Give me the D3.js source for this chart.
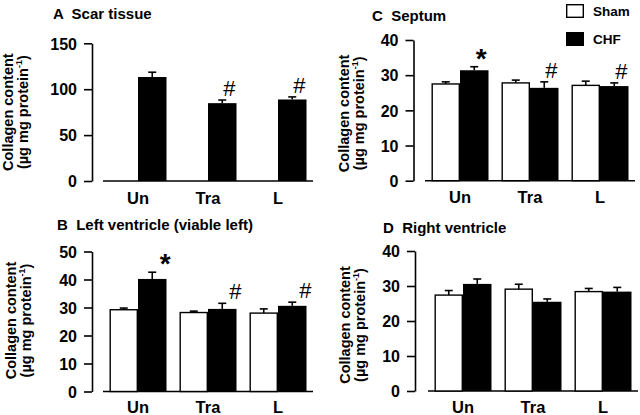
<!DOCTYPE html>
<html>
<head>
<meta charset="utf-8">
<script src="https://cdn.jsdelivr.net/npm/d3@7/dist/d3.min.js"></script>
<style>
body { margin: 0; background: #fff; }
svg text { font-family: Arial, "Liberation Sans", Helvetica, sans-serif; font-weight: bold; fill: #000; }
</style>
</head>
<body>
<div id="chart"></div>
<script>
var categories = ["Un", "Tra", "L"];
var series = ["Sham", "CHF"];

// A: scar tissue (CHF only)
var scarSham = [null, null, null];
var scarShamErr = [null, null, null];
var scarCHF = [113.3, 84.8, 88.8];
var scarCHFErr = [5.2, 3.4, 2.8];
var scarMarks = ["", "#", "#"];

// B: left ventricle (viable left)
var lvSham = [29.2, 28.2, 28.0];
var lvShamErr = [0.6, 0.5, 1.5];
var lvCHF = [40.2, 29.5, 30.6];
var lvCHFErr = [2.4, 2.0, 1.3];
var lvMarks = ["*", "#", "#"];

// C: septum
var septSham = [27.5, 27.8, 27.1];
var septShamErr = [0.6, 0.8, 1.2];
var septCHF = [31.4, 26.4, 26.9];
var septCHFErr = [1.0, 1.7, 0.9];
var septMarks = ["*", "#", "#"];

// D: right ventricle
var rvSham = [27.4, 29.1, 28.4];
var rvShamErr = [1.3, 1.4, 0.9];
var rvCHF = [30.6, 25.5, 28.4];
var rvCHFErr = [1.4, 0.8, 1.2];
var rvMarks = ["", "", ""];

var svg = d3.select("#chart").append("svg")
    .attr("width", 640)
    .attr("height", 415);

svg.append("rect").attr("width", 640).attr("height", 415).attr("fill", "#fff");

function drawPanel(p) {
    var g = svg.append("g");
    var y = d3.scaleLinear().domain([0, p.max]).range([p.y0, p.y1]);
    var x = d3.scaleBand().domain(categories).range([p.x0, p.x0 + 210]);
    // two bars side by side, centred in each 70px group
    var xs = d3.scaleBand().domain(series).range([6.5, 63.5]);

    // y axis
    var axis = g.append("g")
        .attr("transform", "translate(" + p.ax + ",0)")
        .call(d3.axisLeft(y).tickValues(p.ticks).tickSize(8).tickSizeOuter(0).tickPadding(7));
    axis.select(".domain").attr("stroke", "#000").attr("stroke-width", 1.6);
    axis.selectAll(".tick line").attr("stroke", "#000").attr("stroke-width", 1.6);
    axis.selectAll(".tick text")
        .attr("font-size", 16)
        .attr("font-family", null)
        .attr("dy", "0.36em");

    // baseline
    g.append("line")
        .attr("x1", p.x0).attr("x2", p.x0 + 210)
        .attr("y1", y(0)).attr("y2", y(0))
        .attr("stroke", "#000").attr("stroke-width", 1.6);

    // bars
    var bars = [];
    categories.forEach(function(c, i) {
        if (p.sham[i] != null) bars.push({cat: c, s: "Sham", v: p.sham[i], e: p.shamErr[i]});
        if (p.chf[i] != null) bars.push({cat: c, s: "CHF", v: p.chf[i], e: p.chfErr[i], mark: p.marks[i]});
    });

    g.selectAll("rect.bar")
        .data(bars)
        .enter().append("rect")
        .attr("class", "bar")
        .attr("x", function(d) { return x(d.cat) + xs(d.s) + (d.s == "Sham" ? 0.7 : 0); })
        .attr("y", function(d) { return y(d.v); })
        .attr("width", function(d) { return xs.bandwidth() - (d.s == "Sham" ? 1.4 : 0); })
        .attr("height", function(d) { return y(0) - y(d.v); })
        .attr("fill", function(d) { return d.s == "Sham" ? "#fff" : "#000"; })
        .attr("stroke", "#000")
        .attr("stroke-width", function(d) { return d.s == "Sham" ? 1.4 : 0; });

    // error bars (upper only)
    var err = g.selectAll("g.err")
        .data(bars)
        .enter().append("g")
        .attr("class", "err")
        .attr("stroke", "#000")
        .attr("stroke-width", 1.6);
    err.append("line")
        .attr("x1", function(d) { return x(d.cat) + xs(d.s) + xs.bandwidth() / 2; })
        .attr("x2", function(d) { return x(d.cat) + xs(d.s) + xs.bandwidth() / 2; })
        .attr("y1", function(d) { return y(d.v); })
        .attr("y2", function(d) { return y(d.v + d.e); });
    err.append("line")
        .attr("x1", function(d) { return x(d.cat) + xs(d.s) + xs.bandwidth() / 2 - 4; })
        .attr("x2", function(d) { return x(d.cat) + xs(d.s) + xs.bandwidth() / 2 + 4; })
        .attr("y1", function(d) { return y(d.v + d.e); })
        .attr("y2", function(d) { return y(d.v + d.e); });

    // significance marks
    g.selectAll("text.mark")
        .data(bars.filter(function(d) { return d.mark; }))
        .enter().append("text")
        .attr("class", "mark")
        .attr("text-anchor", "middle")
        .attr("x", function(d) { return x(d.cat) + xs(d.s) + xs.bandwidth() / 2 + p.markDx; })
        .attr("y", function(d) { return y(d.v + d.e) + (d.mark == "*" ? 1 : -4); })
        .attr("font-size", function(d) { return d.mark == "*" ? 28 : 22; })
        .style("font-weight", function(d) { return d.mark == "*" ? "bold" : "normal"; })
        .text(function(d) { return d.mark; });

    // category labels
    g.selectAll("text.cat")
        .data(categories)
        .enter().append("text")
        .attr("class", "cat")
        .attr("text-anchor", "middle")
        .attr("x", function(d) { return x(d) + x.bandwidth() / 2; })
        .attr("y", p.labelY)
        .attr("font-size", 16.5)
        .text(function(d) { return d; });

    // title
    g.append("text")
        .attr("x", p.titleX)
        .attr("y", p.titleY)
        .attr("font-size", 15)
        .style("white-space", "pre")
        .text(p.title);

    // y label
    var yl = g.append("g")
        .attr("transform", "translate(" + p.labX + "," + ((p.y0 + p.y1) / 2 + p.labDy) + ")rotate(-90)");
    yl.append("text")
        .attr("text-anchor", "middle")
        .attr("font-size", 14.5)
        .text("Collagen content");
    var l2 = yl.append("text")
        .attr("text-anchor", "middle")
        .attr("y", 15)
        .attr("font-size", 14.5);
    l2.append("tspan").text("(\u00b5g mg protein");
    l2.append("tspan").attr("font-size", 9).attr("dy", -6).text("-1");
    l2.append("tspan").attr("dy", 6).text(")");
}

drawPanel({title: "A  Scar tissue", titleX: 53, titleY: 19, ax: 92, x0: 103, y0: 181, y1: 43.3, max: 150,
    ticks: [0, 50, 100, 150], sham: scarSham, shamErr: scarShamErr, chf: scarCHF, chfErr: scarCHFErr,
    marks: scarMarks, markDx: 7, labelY: 204, labX: 13, labDy: 0});
drawPanel({title: "B  Left ventricle (viable left)", titleX: 57, titleY: 230, ax: 92, x0: 103, y0: 391.5, y1: 251.5, max: 50,
    ticks: [0, 10, 20, 30, 40, 50], sham: lvSham, shamErr: lvShamErr, chf: lvCHF, chfErr: lvCHFErr,
    marks: lvMarks, markDx: 13, labelY: 413, labX: 16, labDy: -1});
drawPanel({title: "C  Septum", titleX: 372, titleY: 20.5, ax: 413.5, x0: 425, y0: 180.7, y1: 40, max: 40,
    ticks: [0, 10, 20, 30, 40], sham: septSham, shamErr: septShamErr, chf: septCHF, chfErr: septCHFErr,
    marks: septMarks, markDx: 7, labelY: 203, labX: 349, labDy: 3});
drawPanel({title: "D  Right ventricle", titleX: 383, titleY: 233, ax: 415, x0: 428, y0: 391, y1: 251, max: 40,
    ticks: [0, 10, 20, 30, 40], sham: rvSham, shamErr: rvShamErr, chf: rvCHF, chfErr: rvCHFErr,
    marks: rvMarks, markDx: 7, labelY: 413, labX: 350, labDy: 4});

// legend
var legend = svg.selectAll("g.legend")
    .data(series)
    .enter().append("g")
    .attr("class", "legend")
    .attr("transform", function(d, i) { return "translate(566," + (4 + i * 28) + ")"; });
legend.append("rect")
    .attr("x", 0.7).attr("y", 0.7)
    .attr("width", 16.6).attr("height", 12.6)
    .attr("fill", function(d) { return d == "Sham" ? "#fff" : "#000"; })
    .attr("stroke", "#000")
    .attr("stroke-width", 1.4);
legend.append("text")
    .attr("x", 27)
    .attr("y", 12)
    .attr("font-size", 13.5)
    .text(function(d) { return d; });
</script>
</body>
</html>
